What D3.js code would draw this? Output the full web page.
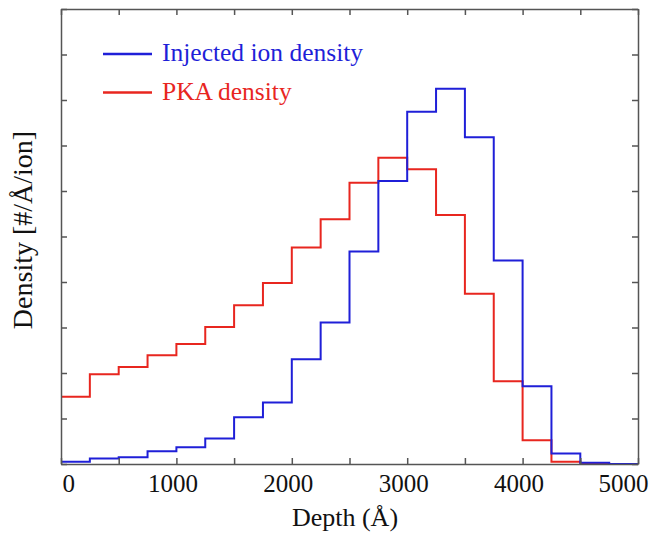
<!DOCTYPE html>
<html><head><meta charset="utf-8">
<script src="https://cdn.jsdelivr.net/npm/d3@7"></script>
<style>body{margin:0;background:#fff}svg{display:block}</style>
</head><body>
<script>
const binEdges = [0,250,500,750,1000,1250,1500,1750,2000,2250,2500,2750,3000,3250,3500,3750,4000,4250,4500,4750,5000];
const injected = [0.05,0.12,0.15,0.28,0.37,0.56,1.03,1.35,2.30,3.11,4.67,6.22,7.74,8.25,7.18,4.47,1.71,0.23,0.03,0.0];
const pka = [1.48,1.97,2.13,2.39,2.64,3.01,3.49,3.98,4.76,5.38,6.18,6.73,6.48,5.47,3.74,1.82,0.52,0.05,0.015,0.0];
const xTickLabels = [0,1000,2000,3000,4000,5000];
const xMinorTicks = [0,500,1000,1500,2000,2500,3000,3500,4000,4500,5000];
const yTicks = [0,1,2,3,4,5,6,7,8,9,10];
const seriesNames = ["Injected ion density","PKA density"];
const colors = ["#1f1fd8","#e8261f"];

(function(){
const W=651,H=535;
const m={l:61,r:13,t:9,b:71};
const svg=d3.select("body").append("svg").attr("width",W).attr("height",H);
const x=d3.scaleLinear().domain([0,5000]).range([m.l,W-m.r]);
const y=d3.scaleLinear().domain([0,10]).range([H-m.b,m.t]);
const font="'Liberation Serif','Times New Roman',serif";

function steps(vals){
  const pts=[];
  vals.forEach((v,i)=>{pts.push([binEdges[i],v]);pts.push([binEdges[i+1],v]);});
  return pts;
}
const line=d3.line().x(d=>x(d[0])).y(d=>y(d[1]));
const g=svg.append("g");
g.append("path").datum(steps(pka)).attr("d",line).attr("fill","none").attr("stroke",colors[1]).attr("stroke-width",2);
g.append("path").datum(steps(injected)).attr("d",line).attr("fill","none").attr("stroke",colors[0]).attr("stroke-width",2);

const axColor="#555";
const tl=6;
const axB=svg.append("g").attr("transform",`translate(0,${y(0)})`).call(d3.axisBottom(x).tickValues(xMinorTicks).tickSizeInner(-tl).tickSizeOuter(0).tickFormat(""));
const axT=svg.append("g").attr("transform",`translate(0,${y(10)})`).call(d3.axisTop(x).tickValues(xMinorTicks).tickSizeInner(-tl).tickSizeOuter(0).tickFormat(""));
const axL=svg.append("g").attr("transform",`translate(${x(0)},0)`).call(d3.axisLeft(y).tickValues(yTicks).tickSizeInner(-tl).tickSizeOuter(0).tickFormat(""));
const axR=svg.append("g").attr("transform",`translate(${x(5000)},0)`).call(d3.axisRight(y).tickValues(yTicks).tickSizeInner(-tl).tickSizeOuter(0).tickFormat(""));
[axB,axT,axL,axR].forEach(a=>{a.selectAll("path,line").attr("stroke",axColor).attr("stroke-width",1.5);});

const labs=svg.append("g").attr("transform",`translate(0,${y(0)})`).call(d3.axisBottom(x).tickValues(xTickLabels).tickSize(0).tickPadding(10).tickFormat(d3.format("d")));
labs.select(".domain").remove();
labs.selectAll("text").attr("font-family",font).attr("font-size",25).attr("fill","#111")
  .attr("text-anchor",(d,i,n)=> i===0?"start":(i===n.length-1?"end":"middle"))
  .attr("dx",(d,i,n)=> i===0?"1":(i===n.length-1?"10":"-4"));

svg.append("text").attr("x",345).attr("y",526).attr("text-anchor","middle").attr("font-family",font).attr("font-size",26).attr("fill","#111").text("Depth (Å)");
svg.append("text").attr("transform",`translate(32,230) rotate(-90)`).attr("text-anchor","middle").attr("font-family",font).attr("font-size",28).attr("fill","#111").text("Density [#/Å/ion]");

const leg=svg.append("g");
seriesNames.forEach((n,i)=>{
  const yy=54+i*38.5;
  leg.append("line").attr("x1",103).attr("x2",152).attr("y1",yy).attr("y2",yy).attr("stroke",colors[i]).attr("stroke-width",2.5);
  leg.append("text").attr("x",162).attr("y",yy+7).attr("font-family",font).attr("font-size",25.5).attr("fill",colors[i]).text(n);
});
})();
</script>
</body></html>
